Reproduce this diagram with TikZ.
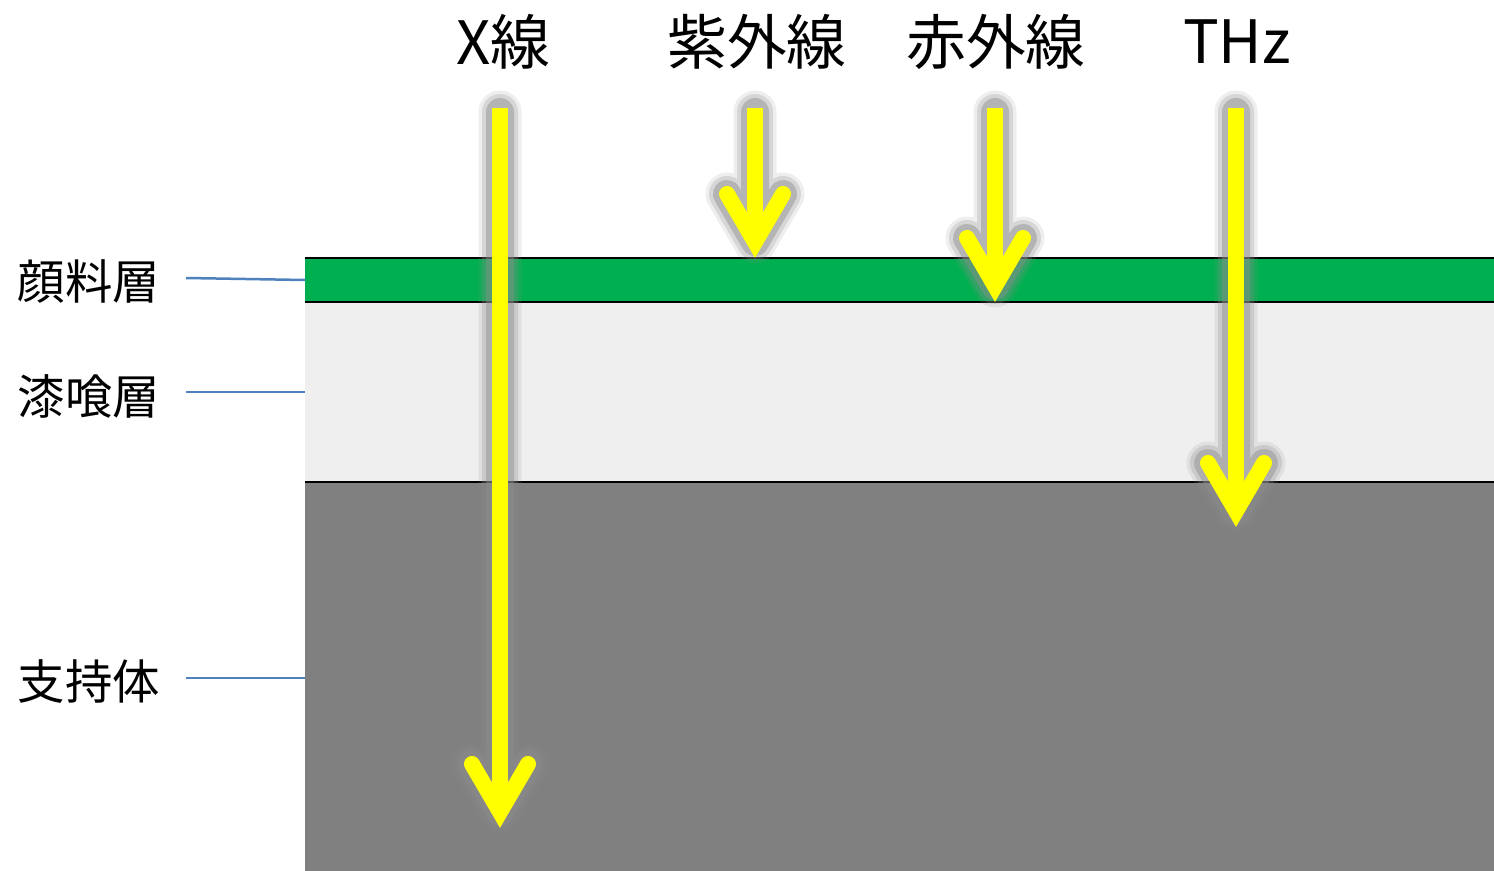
\documentclass[tikz,border=0pt]{standalone}
\usepackage{fontspec}
\setmainfont{Noto Sans CJK JP}
\definecolor{pigment}{HTML}{00B050}
\definecolor{plaster}{HTML}{EFEFEF}
\definecolor{support}{HTML}{808080}
\definecolor{leader}{HTML}{4F81BD}
\definecolor{ray}{HTML}{FFFF00}
\definecolor{glow}{HTML}{8C8C8C}
\tikzset{
  toplabel/.style={font=\fontsize{34}{40}\selectfont, anchor=center, inner sep=0pt},
  sidelabel/.style={font=\fontsize{27}{32}\selectfont, anchor=center, inner sep=0pt},
  leaderline/.style={draw=leader, line width=0.05cm},
  boundary/.style={draw=black, line width=0.045cm},
  rayshaft/.style={draw=ray, line width=0.32cm, line cap=butt},
  rayhead/.style={draw=ray, line width=0.32cm, line cap=round, line join=miter},
}
\newcommand\drawray[3]{% x, shaft top, outer tip
  \foreach \w/\o in {0.86/0.15, 0.72/0.25, 0.56/0.45}{
    \draw[glow, opacity=\o, line width=\w cm, line cap=round, line join=round]
      (#1,#2+4) -- (#1,#3-16) (#1-28,#3-64) -- (#1,#3-16) -- (#1+28,#3-64);
  }
  \draw[rayshaft] (#1,#2) -- (#1,#3-22);
  \draw[rayhead] (#1-28,#3-64) -- (#1,#3-16) -- (#1+28,#3-64);
}
\begin{document}
\begin{tikzpicture}[x=0.02cm,y=-0.02cm]
\useasboundingbox (0,0) rectangle (1494,871);
% layers
\fill[support] (305,482) rectangle (1494,871);
\fill[plaster] (305,302) rectangle (1494,482);
\fill[pigment] (305,258) rectangle (1494,302);
\draw[boundary] (305,258) -- (1494,258);
\draw[boundary] (305,302) -- (1494,302);
\draw[boundary] (305,482) -- (1494,482);
% side labels
\node[sidelabel] (lpig) at (89,282) {顔料層};
\node[sidelabel] (lpla) at (89,396) {漆喰層};
\node[sidelabel] (lsup) at (89,682) {支持体};
\coordinate (pigA) at (186,278); \coordinate (pigB) at (305,280);
\coordinate (plaA) at (186,392); \coordinate (plaB) at (305,392);
\coordinate (supA) at (186,678); \coordinate (supB) at (305,678);
\draw[leaderline] (pigA) -- (pigB);
\draw[leaderline] (plaA) -- (plaB);
\draw[leaderline] (supA) -- (supB);
% top labels
\node[toplabel] (tx) at (503,42) {X線};
\node[toplabel] (tuv) at (757,42) {紫外線};
\node[toplabel] (tir) at (996,42) {赤外線};
\node[toplabel] (tthz) at (1237,42) {THz};
% rays
\drawray{500}{108}{828}
\drawray{755}{108}{258}
\drawray{995}{108}{302}
\drawray{1236}{108}{527}
\end{tikzpicture}
\end{document}
